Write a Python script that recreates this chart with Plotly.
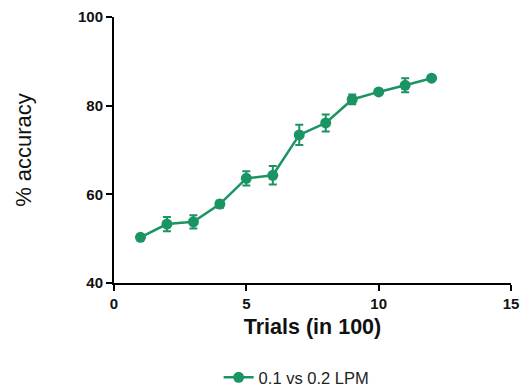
import plotly.graph_objects as go

trials = [1, 2, 3, 4, 5, 6, 7, 8, 9, 10, 11, 12]
accuracy = [50.3, 53.3, 53.8, 57.8, 63.6, 64.3, 73.4, 76.1, 81.4, 83.1, 84.6, 86.2]
errors = [0.3, 1.6, 1.5, 0.8, 1.6, 2.1, 2.3, 1.9, 1.1, 0.5, 1.6, 0.3]
series_name = "0.1 vs 0.2 LPM"
x_ticks = [0, 5, 10, 15]
y_ticks = [40, 60, 80, 100]

color = "#1a9463"

fig = go.Figure()
fig.add_trace(go.Scatter(
    x=trials, y=accuracy, name=series_name, mode="lines+markers",
    line=dict(color=color, width=2.5),
    marker=dict(color=color, size=11),
    error_y=dict(type="data", array=errors, color=color, thickness=2, width=4),
))

fig.update_layout(
    width=522, height=392,
    margin=dict(l=114, r=11, t=17, b=109, autoexpand=False),
    plot_bgcolor="white", paper_bgcolor="white",
    font=dict(family="Arial, Liberation Sans, sans-serif", color="#111"),
    showlegend=True,
    legend=dict(orientation="h", x=0.46, xanchor="center", y=-0.29, yanchor="top",
                font=dict(size=16.5, color="#222")),
    xaxis=dict(range=[0, 15], tickvals=x_ticks, ticktext=[f"<b>{v}</b>" for v in x_ticks],
               showgrid=False, zeroline=False,
               showline=True, linecolor="black", linewidth=2,
               ticks="outside", ticklen=6, tickwidth=2, tickcolor="black",
               tickfont=dict(size=15),
               title=dict(text="<b>Trials (in 100)</b>", font=dict(size=21.5), standoff=8)),
    yaxis=dict(range=[40, 100], tickvals=y_ticks, ticktext=[f"<b>{v}</b>" for v in y_ticks],
               showgrid=False, zeroline=False,
               showline=True, linecolor="black", linewidth=2,
               ticks="outside", ticklen=6, tickwidth=2, tickcolor="black",
               tickfont=dict(size=15),
               title=dict(text="% accuracy", font=dict(size=22), standoff=40)),
)

fig.write_html("out.html")
